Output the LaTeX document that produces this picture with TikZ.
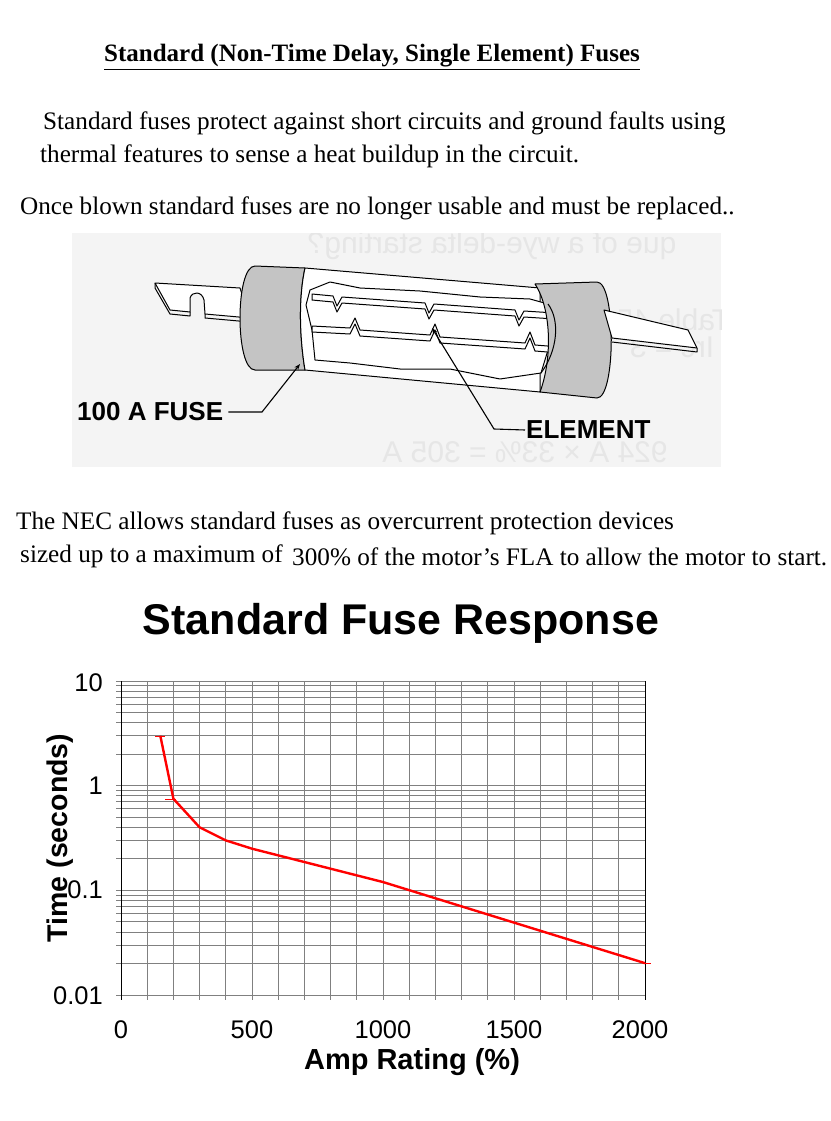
\documentclass[tikz,border=0pt]{standalone}
\usepackage{fontspec}
\setmainfont{Liberation Serif}
\setsansfont{Liberation Sans}
\usetikzlibrary{arrows.meta}
\definecolor{bgc}{HTML}{F4F4F4}
\definecolor{capg}{HTML}{C4C4C4}
\definecolor{ghost}{HTML}{E6E6E6}
\definecolor{gridg}{HTML}{808080}
\tikzset{
  body/.style={font=\fontsize{25.2}{30}\selectfont, anchor=base west, inner sep=0pt},
  lbl/.style={font=\sffamily\bfseries\fontsize{26}{30}\selectfont, inner sep=1pt},
  ghosttxt/.style={font=\sffamily\fontsize{30}{34}\selectfont, text=ghost, xscale=-1, inner sep=0pt},
  fuse/.style={draw=black, line width=1pt, line join=round},
  tick/.style={font=\sffamily\fontsize{25.5}{29}\selectfont, inner sep=0pt},
  curve/.style={red, line width=2.4pt, line join=round},
}
\begin{document}
\begin{tikzpicture}[x=1pt,y=-1pt]
\useasboundingbox (0,0) rectangle (830,1121);
\fill[white] (0,0) rectangle (830,1121);
% texts
\node[body, font=\bfseries\fontsize{25}{30}\selectfont] (title) at (104,62) {\underline{Standard (Non-Time Delay, Single Element) Fuses}};
\node[body] (l1) at (43,130) {Standard fuses protect against short circuits and ground faults using};
\node[body] (l2) at (40,162) {thermal features to sense a heat buildup in the circuit.};
\node[body] (l3) at (20,214) {Once blown standard fuses are no longer usable and must be replaced..};
\node[body] (l4) at (16,529) {The NEC allows standard fuses as overcurrent protection devices};
\node[body] (l5) at (20,562) {sized up to a maximum of};
\node[body] (l6) at (292,565) {300\% of the motor’s FLA to allow the motor to start.};
% fuse picture
\fill[bgc] (72,233) rectangle (721,467);
\begin{scope}
\clip (72,233) rectangle (721,467);
\node[ghosttxt] (g1) at (492,246) {que of a wye-delta starting?};
\node[ghosttxt] (g2) at (660,320) {Table 45-1};
\node[ghosttxt] (g3) at (672,347) {Irc = 3};
\node[ghosttxt] (g4) at (525,452) {924 A × 33\% = 305 A};
\end{scope}
% left blade
\draw[fuse, fill=white] (155,283) -- (240,288) -- (250,318) -- (205,314) -- (204,300) .. controls (202,291) and (192,291) .. (190,298) -- (190,312) -- (170,310) -- cycle;
\draw[fuse] (155,283) -- (155,288) -- (170,314) -- (190,316) -- (190,312);
\draw[fuse] (205,314) -- (205,318) -- (250,322);
% left cap
\draw[fuse, fill=capg] (255,266) -- (305,268) .. controls (298,300) and (300,340) .. (305,370) -- (255,370) .. controls (235,370) and (235,266) .. (255,266) -- cycle;
% body
\draw[fuse, fill=white] (305,268) -- (540,288) -- (540,392) -- (305,370) .. controls (300,340) and (298,300) .. (305,268) -- cycle;
\draw[fuse, fill=white] (310,290) -- (330,282) -- (360,288) -- (420,291) -- (480,297) -- (530,299) -- (548,304) -- (553,322) -- (548,350) -- (541,373) -- (500,379) -- (450,369) -- (400,369) -- (350,363) -- (315,360) -- (312,330) -- (306,305) -- cycle;
% element strips
\draw[fuse, fill=white] (312,294) -- (333,296) -- (337,306) -- (342,297) -- (425,303) -- (429,313) -- (434,304) -- (515,310) -- (519,320) -- (524,311) -- (555,313) -- (555,319) -- (524,317) -- (519,326) -- (515,316) -- (434,310) -- (429,319) -- (425,309) -- (342,303) -- (337,312) -- (333,302) -- (312,300) -- cycle;
\draw[fuse, fill=white] (312,326) -- (350,328) -- (355,318) -- (360,330) -- (430,335) -- (435,324) -- (440,337) -- (525,343) -- (530,332) -- (535,345) -- (560,347) -- (560,353) -- (535,351) -- (530,338) -- (525,349) -- (440,343) -- (435,330) -- (430,341) -- (360,336) -- (355,324) -- (350,334) -- (312,332) -- cycle;
% right cap
\draw[fuse, fill=capg] (535,284) -- (597,282) .. controls (616,282) and (616,398) .. (597,398) -- (540,392) .. controls (552,360) and (552,310) .. (535,284) -- cycle;
\draw[fuse] (548,304) .. controls (560,320) and (558,350) .. (541,373);
% right blade
\draw[fuse, fill=white] (604,310) -- (688,330) -- (697,348) -- (612,338) -- cycle;
\draw[fuse] (697,348) -- (697,352) -- (612,342);
% labels
\node[lbl, anchor=west] (fl) at (76,412) {100 A FUSE};
\node[lbl, anchor=west] (el) at (525,430) {ELEMENT};
\coordinate (fusetip) at (300,364);
\coordinate (fusebend) at (262,412);
\coordinate (eltip) at (432,328);
\coordinate (elbend) at (494,429);
\draw[line width=1.1pt, -{Stealth[length=6pt]}] (fl.east) ++(4,0) -- (fusebend) -- (fusetip);
\draw[line width=1.1pt, -{Stealth[length=6pt]}] (el.west) -- (elbend) -- (eltip);
% chart
\node[font=\sffamily\bfseries\fontsize{43}{50}\selectfont, inner sep=0pt] (ctitle) at (401,623) {Standard Fuse Response};
\foreach \k in {-2,-1,0} {
  \foreach \m in {2,...,9} {
    \pgfmathsetmacro{\yy}{995-104.67*(log10(\m)+\k+2)}
    \draw[gridg, line width=0.9pt] (116,\yy) -- (645,\yy);
  }
}
\foreach \k in {0,1,2,3} {
  \draw[gridg, line width=0.9pt] (116,{995-104.67*\k}) -- (645,{995-104.67*\k});
}
\foreach \i in {1,...,19} {
  \draw[gridg, line width=0.9pt] ({121+26.2*\i},681) -- ({121+26.2*\i},1000);
}
\draw[black, line width=1pt] (121,681) -- (121,1000);
\draw[black, line width=1pt] (645,681) -- (645,1000);
\node[tick, anchor=east] (y10) at (103,683) {10};
\node[tick, anchor=east] (y1) at (103,786) {1};
\node[tick, anchor=east] (y01) at (103,890) {0.1};
\node[tick, anchor=east] (y001) at (103,996) {0.01};
\node[tick] (x0) at (121,1030) {0};
\node[tick] (x500) at (252,1030) {500};
\node[tick] (x1000) at (383,1030) {1000};
\node[tick] (x1500) at (514,1030) {1500};
\node[tick] (x2000) at (640,1030) {2000};
\node[font=\sffamily\bfseries\fontsize{29}{34}\selectfont, inner sep=0pt] (xlab) at (412,1062) {Amp Rating (\%)};
\node[font=\sffamily\bfseries\fontsize{28.5}{33}\selectfont, inner sep=0pt, rotate=90] (ylab) at (60,838) {Time (seconds)};
\draw[curve] ({121+0.262*150},{995-104.67*(log10(3)+2)})
  -- ({121+0.262*200},{995-104.67*(log10(0.75)+2)})
  -- ({121+0.262*300},{995-104.67*(log10(0.4)+2)})
  -- ({121+0.262*400},{995-104.67*(log10(0.3)+2)})
  -- ({121+0.262*500},{995-104.67*(log10(0.25)+2)})
  -- ({121+0.262*1000},{995-104.67*(log10(0.12)+2)})
  -- ({121+0.262*2000},{995-104.67*(log10(0.02)+2)});
\draw[red, line width=1pt] (155,736) -- (165,736);
\draw[red, line width=1pt] (165,799) -- (176,799);
\draw[red, line width=1pt] (645,963) -- (651,963);
\end{tikzpicture}
\end{document}
